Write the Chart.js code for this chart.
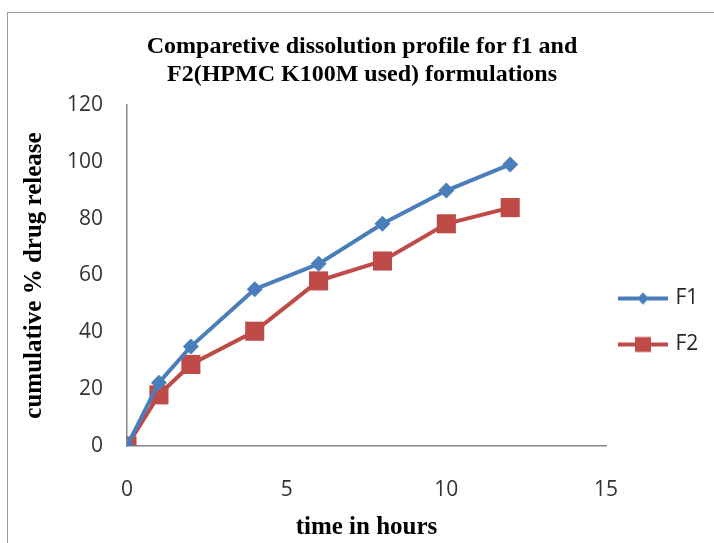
<!DOCTYPE html>
<html>
<head>
<meta charset="utf-8">
<script src="https://cdn.jsdelivr.net/npm/chart.js@4/dist/chart.umd.min.js"></script>
<style>
  html, body { margin: 0; padding: 0; background: #fff; overflow: hidden; }
  #frame { position: absolute; left: 7px; top: 12px; width: 800px; height: 600px; border: 1px solid #9a9a9a; }
  #wrap { position: absolute; left: 0; top: 0; width: 714px; height: 543px; }
</style>
</head>
<body>
<div id="frame"></div>
<div id="wrap"><canvas id="chart" width="714" height="543"></canvas></div>
<script>
// ---- Data ----
const hours = [0, 1, 2, 4, 6, 8, 10, 12];
const f1Release = [0, 22.3, 35.0, 55.2, 64.1, 78.2, 89.9, 99.1];
const f2Release = [0, 18.0, 28.7, 40.4, 58.1, 65.1, 78.2, 83.9];
const seriesNames = ['F1', 'F2'];
const xTicks = [0, 5, 10, 15];
const yTicks = [0, 20, 40, 60, 80, 100, 120];

const BLUE = '#4a7ebb';
const RED = '#be4b48';
const SERIF = '"Liberation Serif", "Times New Roman", serif';
const SANS = '"Open Sans", sans-serif';

// legend swatch: line with marker in the middle, like the original
function legendSwatch(color, style) {
  const c = document.createElement('canvas');
  c.width = 50; c.height = 20;
  const g = c.getContext('2d');
  g.strokeStyle = color;
  g.lineWidth = 4;
  g.beginPath(); g.moveTo(0, 10); g.lineTo(50, 10); g.stroke();
  g.fillStyle = color;
  if (style === 'diamond') {
    g.beginPath();
    g.moveTo(25, 4); g.lineTo(31, 10); g.lineTo(25, 16); g.lineTo(19, 10);
    g.closePath(); g.fill();
  } else {
    g.fillRect(17, 2.5, 16, 15);
  }
  return c;
}
const swatches = [legendSwatch(BLUE, 'diamond'), legendSwatch(RED, 'square')];

// nudge the legend box to where the original has it
const legendNudge = {
  id: 'legendNudge',
  afterLayout(chart) {
    const lg = chart.legend;
    if (!lg) return;
    const dx = -10, dy = 50;
    lg.left += dx; lg.right += dx;
    lg.top += dy; lg.bottom += dy;
  }
};

const ctx = document.getElementById('chart').getContext('2d');
new Chart(ctx, {
  type: 'line',
  data: {
    datasets: [{
      label: seriesNames[0],
      data: hours.map((h, i) => ({ x: h, y: f1Release[i] })),
      borderColor: BLUE,
      backgroundColor: BLUE,
      borderWidth: 4,
      pointStyle: 'rectRot',
      pointRadius: 8,
      pointBorderWidth: 0,
      tension: 0
    }, {
      label: seriesNames[1],
      data: hours.map((h, i) => ({ x: h, y: f2Release[i] })),
      borderColor: RED,
      backgroundColor: RED,
      borderWidth: 4,
      pointStyle: 'rect',
      pointRadius: 13.5,
      pointBorderWidth: 0,
      tension: 0
    }]
  },
  options: {
    responsive: false,
    animation: false,
    layout: { padding: { left: 10, top: 0, right: 0, bottom: 0 } },
    plugins: {
      title: {
        display: true,
        text: ['Comparetive dissolution profile for f1 and', 'F2(HPMC K100M used) formulations'],
        color: '#000',
        font: { family: SERIF, size: 24, weight: 'bold', lineHeight: 1.167 },
        padding: { top: 33, bottom: 16 }
      },
      legend: {
        position: 'right',
        maxWidth: 108,
        labels: {
          color: '#262626',
          font: { family: SANS, size: 21 },
          usePointStyle: true,
          pointStyleWidth: 44,
          padding: 25,
          generateLabels: (chart) => {
            const items = Chart.defaults.plugins.legend.labels.generateLabels(chart);
            items.forEach((it, i) => { it.pointStyle = swatches[i]; });
            return items;
          }
        }
      },
      tooltip: { enabled: false }
    },
    scales: {
      x: {
        type: 'linear',
        min: 0,
        max: 15,
        afterBuildTicks: (s) => { s.ticks = xTicks.map(v => ({ value: v })); },
        afterFit: (s) => { s.height = 97; },
        grid: { display: true, drawOnChartArea: false, drawTicks: false },
        border: { color: '#868686', width: 1.5 },
        ticks: {
          color: '#333',
          padding: 31,
          font: { family: SANS, size: 21 }
        },
        title: {
          display: true,
          text: 'time in hours',
          color: '#000',
          font: { family: SERIF, size: 25, weight: 'bold' },
          padding: { top: 0, bottom: 0 }
        }
      },
      y: {
        min: 0,
        max: 120,
        afterBuildTicks: (s) => { s.ticks = yTicks.map(v => ({ value: v })); },
        afterFit: (s) => { s.width = 117; },
        grid: { display: true, drawOnChartArea: false, drawTicks: false },
        border: { color: '#868686', width: 1.5 },
        ticks: {
          color: '#333',
          padding: 24,
          font: { family: SANS, size: 21 }
        },
        title: {
          display: true,
          text: 'cumulative % drug release',
          color: '#000',
          font: { family: SERIF, size: 25, weight: 'bold' },
          padding: { top: 10, bottom: 0 }
        }
      }
    }
  },
  plugins: [legendNudge]
});
</script>
</body>
</html>
